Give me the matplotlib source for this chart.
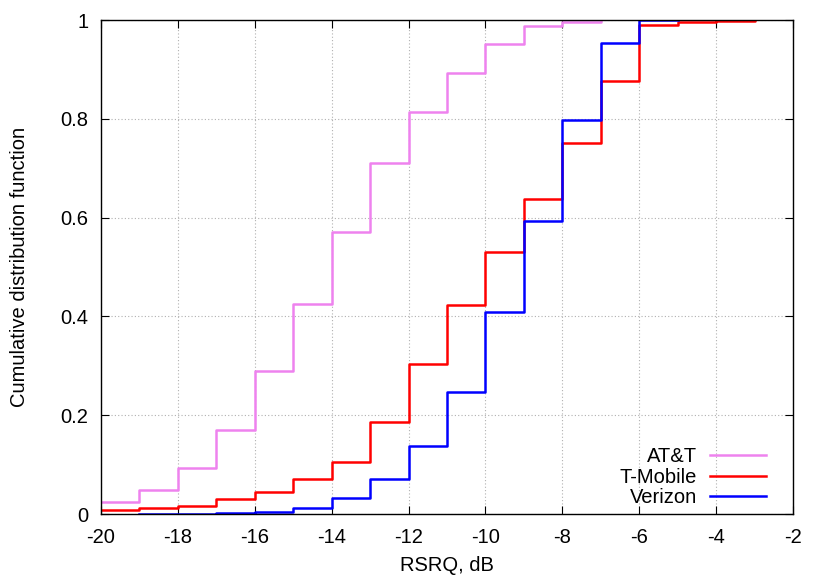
import numpy as np
import matplotlib
matplotlib.use("Agg")
import matplotlib.pyplot as plt
from matplotlib.ticker import FuncFormatter

# RSRQ bins (dB) and CDF values
x_att = [-20, -19, -18, -17, -16, -15, -14, -13, -12, -11, -10, -9, -8, -7]
cdf_att = [0.024, 0.049, 0.094, 0.171, 0.290, 0.425, 0.571, 0.711, 0.814,
           0.892, 0.952, 0.988, 0.996, 0.999]

x_tmo = [-20, -19, -18, -17, -16, -15, -14, -13, -12, -11, -10, -9, -8, -7,
         -6, -5, -4, -3]
cdf_tmo = [0.008, 0.013, 0.017, 0.030, 0.044, 0.071, 0.105, 0.186, 0.304,
           0.423, 0.530, 0.637, 0.752, 0.877, 0.990, 0.995, 0.998, 0.999]

x_vzw = [-19, -18, -17, -16, -15, -14, -13, -12, -11, -10, -9, -8, -7, -6, -5]
cdf_vzw = [0.001, 0.001, 0.002, 0.004, 0.013, 0.033, 0.071, 0.138, 0.247,
           0.409, 0.593, 0.797, 0.954, 0.999, 1.0]

labels = ["AT&T", "T-Mobile", "Verizon"]
colors = ["#ee82ee", "#ff0000", "#0000ff"]

plt.rcParams["font.family"] = ["Liberation Sans", "DejaVu Sans"]
plt.rcParams["font.size"] = 14.5
plt.rcParams["axes.unicode_minus"] = False

fig = plt.figure(figsize=(8.3, 5.81), dpi=100)
ax = fig.add_axes([101 / 830, 1 - 514 / 581, (793 - 101) / 830, (514 - 20) / 581])

series = [(x_att, cdf_att), (x_tmo, cdf_tmo), (x_vzw, cdf_vzw)]
for (xs, ys), lab, c in zip(series, labels, colors):
    ax.step(xs, ys, where="post", color=c, lw=1.8, label=lab)

ax.set_xlim(-20, -2)
ax.set_ylim(0, 1)
ax.set_xticks(np.arange(-20, -1, 2))
ax.set_yticks([0, 0.2, 0.4, 0.6, 0.8, 1])
ax.yaxis.set_major_formatter(FuncFormatter(lambda v, p: "%g" % v))
ax.xaxis.set_major_formatter(FuncFormatter(lambda v, p: "%g" % v))

ax.grid(True, color="#b0b0b0", linestyle=(0, (1, 2)), lw=0.8)
ax.tick_params(direction="in", top=True, right=True, length=6, width=0.8)
ax.tick_params(axis="x", pad=10)
ax.tick_params(axis="y", pad=9)
for s in ax.spines.values():
    s.set_linewidth(1.0)

ax.set_xlabel("RSRQ, dB")
ax.set_ylabel("Cumulative distribution function")
ax.xaxis.set_label_coords(0.5, -0.085)
ax.yaxis.set_label_coords(-0.104, 0.5)

leg = ax.legend(loc="lower right", bbox_to_anchor=(0.979, -0.011), frameon=False,
                markerfirst=False, handlelength=2.8, handletextpad=0.65,
                labelspacing=0.08, borderaxespad=0.2)
for t in leg.get_texts():
    t.set_ha("right")

fig.savefig("out.png", dpi=100)
